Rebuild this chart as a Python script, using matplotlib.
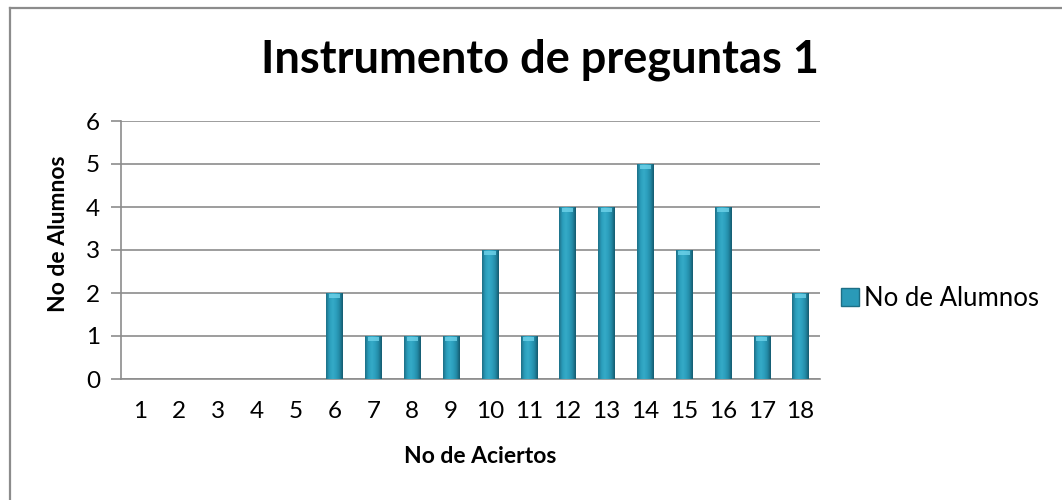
import matplotlib
matplotlib.use("Agg")
import matplotlib.pyplot as plt
import numpy as np
from matplotlib.colors import LinearSegmentedColormap
from matplotlib.lines import Line2D
from matplotlib.patches import Patch

categories = [str(i) for i in range(1, 19)]
values = [0, 0, 0, 0, 0, 2, 1, 1, 1, 3, 1, 4, 4, 5, 3, 4, 1, 2]
series_name = "No de Alumnos"
title = "Instrumento de preguntas 1"
xlabel = "No de Aciertos"
ylabel = "No de Alumnos"

plt.rcParams['font.family'] = ['Lato', 'DejaVu Sans']

W, H = 1062, 500
fig = plt.figure(figsize=(W / 100, H / 100), dpi=100)
fig.patch.set_facecolor("white")

# outer chart border (only top and left visible)
fig.add_artist(Line2D([9.5 / W, 9.5 / W], [0, 1 - 7.5 / H], color="#8c8c8c", lw=1.6, transform=fig.transFigure))
fig.add_artist(Line2D([9.5 / W, 1], [1 - 7.5 / H, 1 - 7.5 / H], color="#8c8c8c", lw=1.6, transform=fig.transFigure))

left, right = 121, 820
top, bottom = 121, 379
ax = fig.add_axes([left / W, 1 - bottom / H, (right - left) / W, (bottom - top) / H])

x = np.arange(len(categories))
bars = ax.bar(x, values, width=0.42, color="#2a9ab8", zorder=3)

cmap = LinearSegmentedColormap.from_list(
    "bev", ["#1d6f86", "#2a9dbb", "#35abc8", "#2c9fbd", "#238aa6", "#145a6e"])
grad = np.linspace(0, 1, 64).reshape(1, -1)
for b in bars:
    h = b.get_height()
    if h <= 0:
        continue
    x0, w = b.get_x(), b.get_width()
    im = ax.imshow(grad, cmap=cmap, aspect="auto", extent=[x0, x0 + w, 0, h],
                   zorder=4, interpolation="bicubic")
    im.set_clip_path(b)
    # top bevel highlight
    ax.fill_between([x0 + w * 0.15, x0 + w * 0.85], h - 0.12, h - 0.02,
                    color="#6fd3ea", alpha=0.8, zorder=5, lw=0)
    b.set_alpha(0)

ax.set_xlim(-0.5, len(categories) - 0.5)
ax.set_ylim(0, 6)
ax.set_yticks(range(0, 7))
ax.set_xticks(x)
ax.set_xticklabels(categories)
ax.yaxis.grid(True, color="#8c8c8c", lw=1.2, zorder=0)
ax.set_axisbelow(True)
for s in ["top", "right"]:
    ax.spines[s].set_visible(False)
for s in ["left", "bottom"]:
    ax.spines[s].set_color("#8c8c8c")
    ax.spines[s].set_linewidth(1.2)
ax.tick_params(axis="y", length=7, color="#8c8c8c", width=1.2, labelsize=17.5, pad=8)
ax.tick_params(axis="x", length=0, labelsize=17.5, pad=16)

ax.set_xlabel(xlabel, fontsize=16.5, fontweight="bold")
ax.xaxis.set_label_coords((480 - left) / (right - left), (bottom - 446) / (bottom - top))
ax.set_ylabel(ylabel, fontsize=16.5, fontweight="bold")
ax.yaxis.set_label_coords((69 - left) / (right - left), (bottom - 234) / (bottom - top))

fig.text(540 / W, 1 - 60 / H, title, fontsize=32.5, fontweight="bold",
         ha="center", va="center")

handle = Patch(facecolor="#2a9ab8", edgecolor="#1d6f86")
fig.legend([handle], [series_name], loc="center left",
           bbox_to_anchor=(818 / W, 1 - 298 / H), frameon=False,
           fontsize=18.5, handlelength=0.7, handleheight=0.7, handletextpad=0.2)

fig.savefig("out.png", dpi=100, facecolor="white")
